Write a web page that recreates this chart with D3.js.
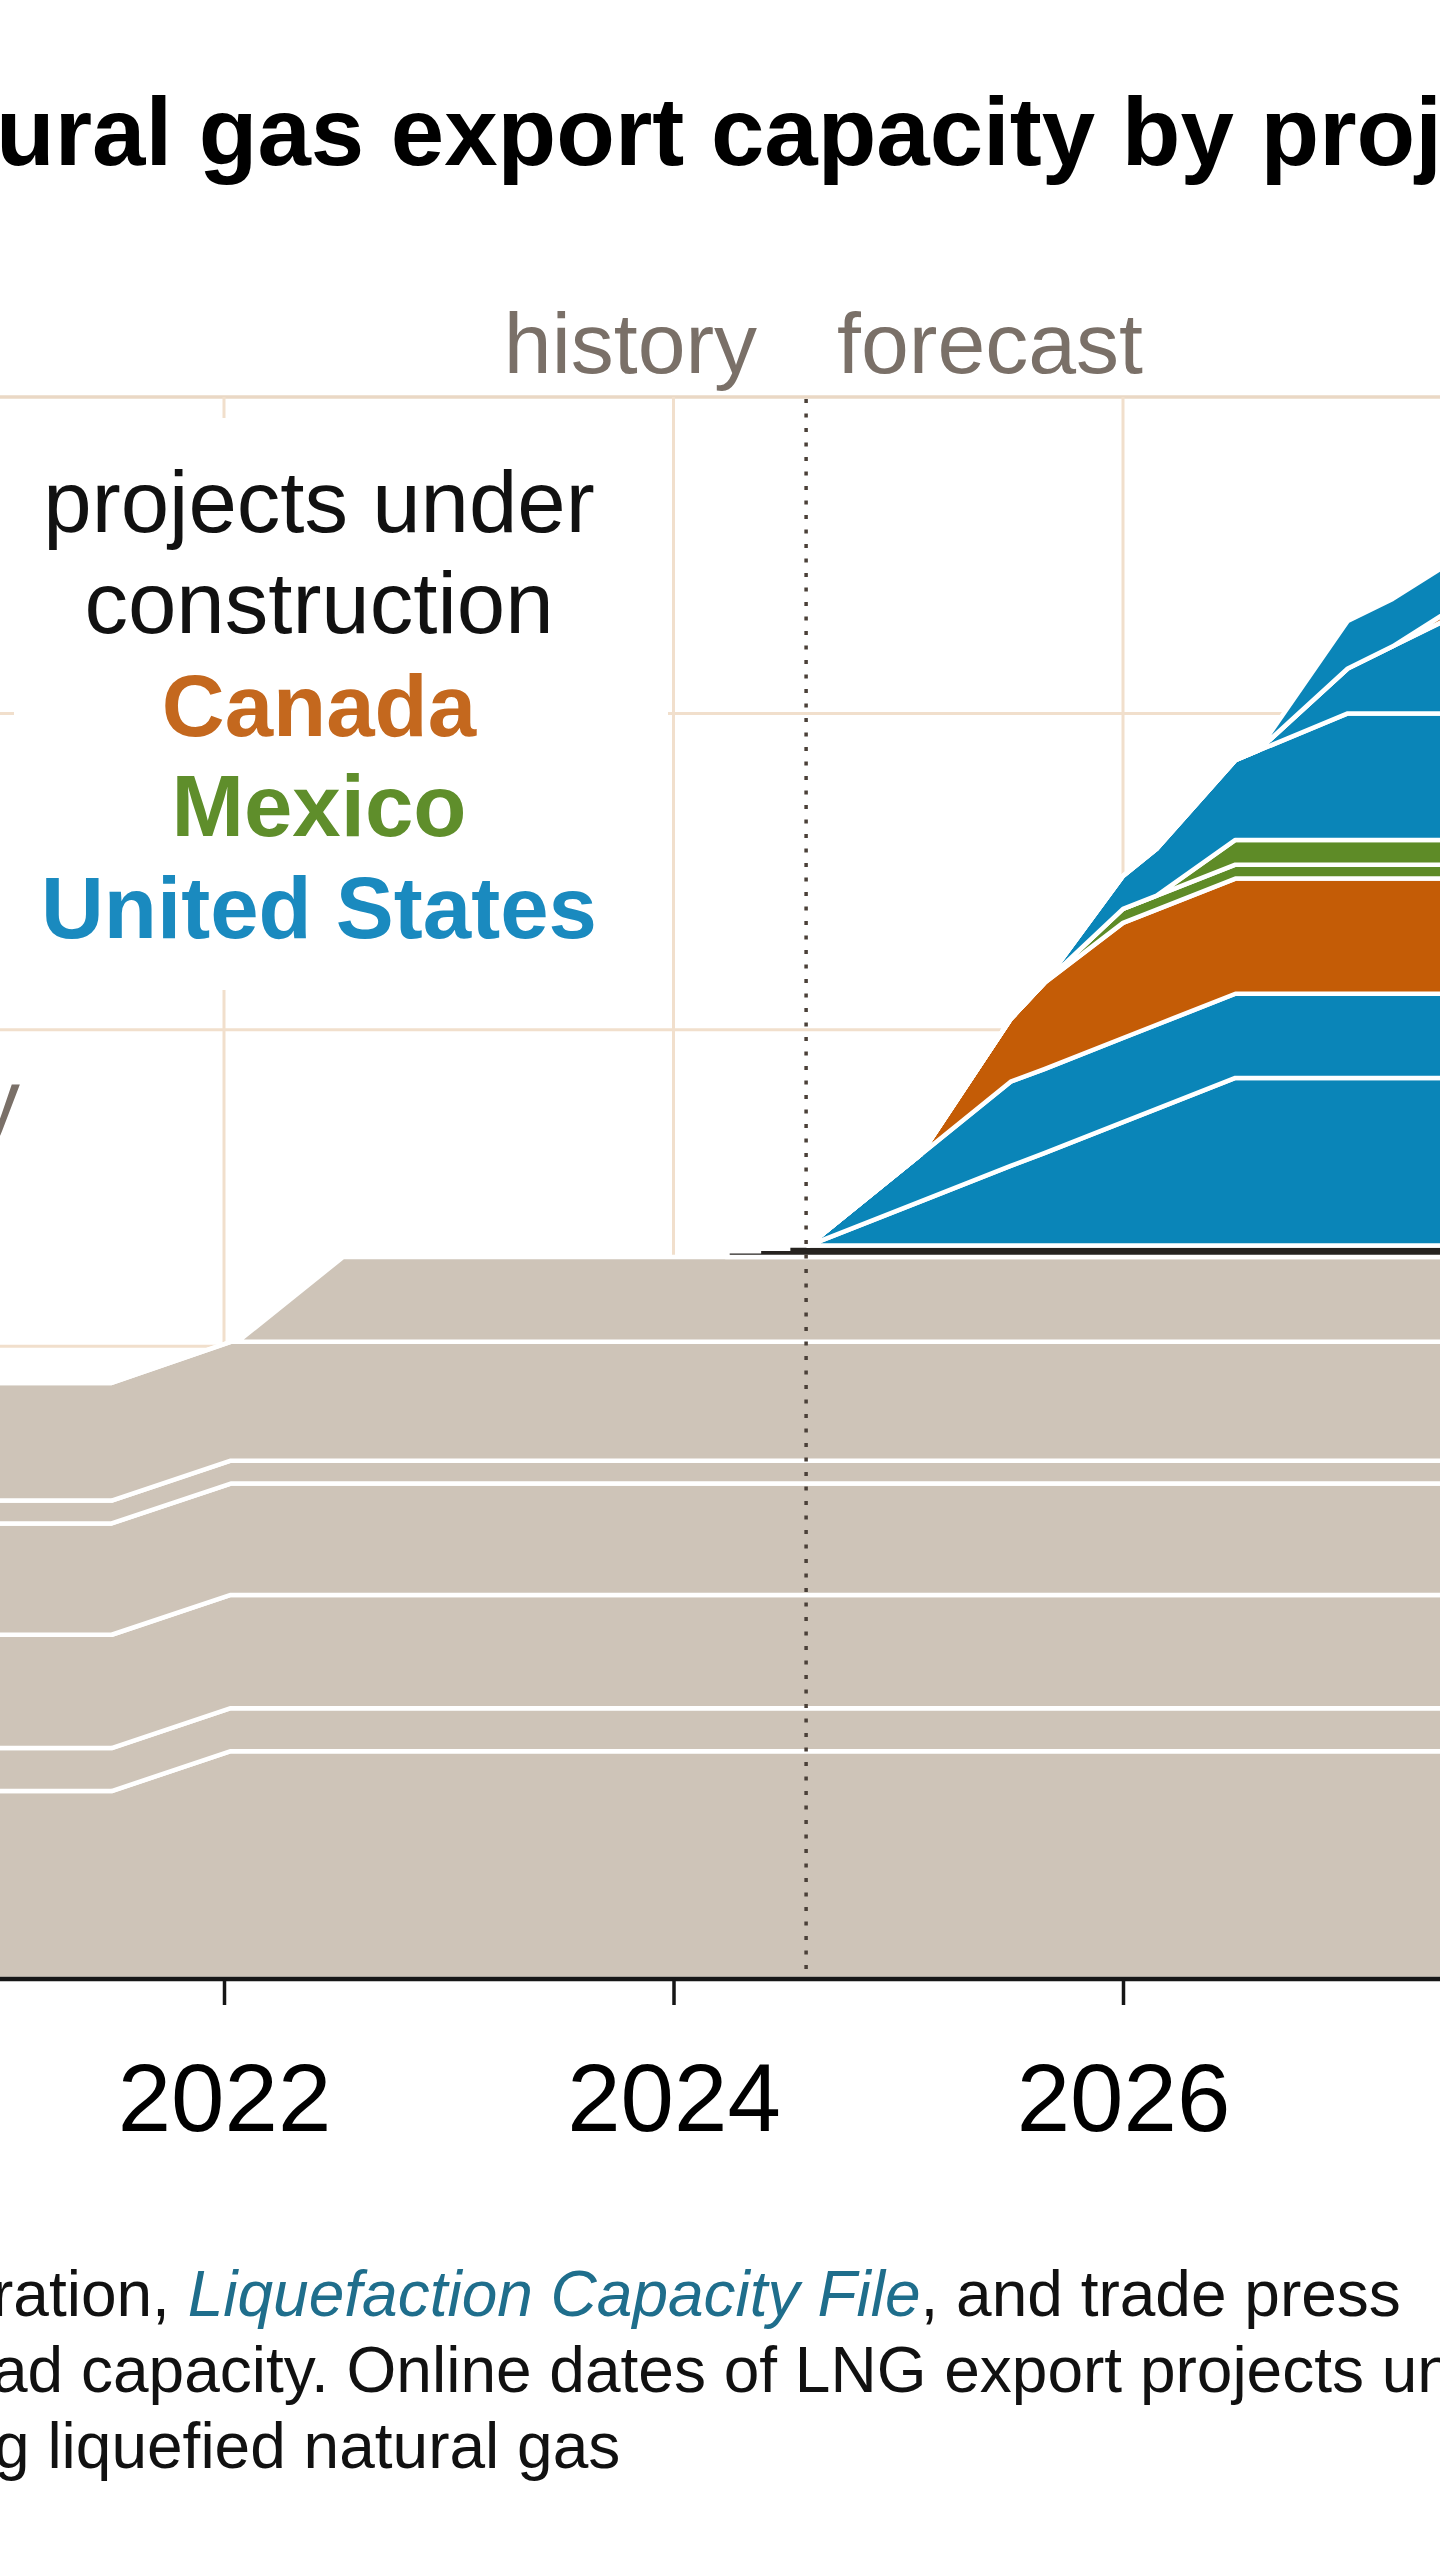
<!DOCTYPE html>
<html><head><meta charset="utf-8">
<script src="https://cdn.jsdelivr.net/npm/d3@7"></script>
<style>
html,body{margin:0;padding:0;background:#fff;}
svg{display:block;}
text{font-family:"Liberation Sans", Arial, Helvetica, sans-serif;}
</style>
</head><body>
<svg id="chart" width="1440" height="2560"></svg>
<script>
// ---------- DATA (Bcf/d) ----------
const xTickYears = [2022, 2024, 2026];
const yGridValues = [5, 10, 15, 20, 25];
const dividerYear = 2024.59;

// existing capacity (tan), stacked bottom -> top
const existingYears = [2020.95, 2021.5, 2022.03, 2022.06, 2022.53, 2027.45];
const existing1 = [2.97, 2.97, 3.60, 3.60, 3.60, 3.60];
const existing2 = [0.68, 0.68, 0.68, 0.68, 0.68, 0.68];
const existing3 = [1.79, 1.79, 1.79, 1.79, 1.79, 1.79];
const existing4 = [1.76, 1.76, 1.76, 1.76, 1.76, 1.76];
const existing5 = [0.36, 0.36, 0.36, 0.36, 0.36, 0.36];
const existing6 = [1.86, 1.86, 1.88, 1.88, 1.88, 1.88];
const existing7 = [0.00, 0.00, 0.00, 0.00, 1.34, 1.34];

// small existing project (dark), step increases
const smallYears = [2024.24, 2024.38, 2024.51, 2027.45];
const smallValues = [0.09, 0.13, 0.18, 0.18];

// projects under construction, stacked bottom -> top
const forecastYears = [2024.6, 2025.1, 2025.5, 2025.65, 2026.0, 2026.15, 2026.5, 2026.6, 2027.0, 2027.2, 2027.45];
const usA     = [0, 0.70, 1.26, 1.46, 1.95, 2.16, 2.65, 2.65, 2.65, 2.65, 2.65];
const usB     = [0, 0.74, 1.33, 1.33, 1.33, 1.33, 1.33, 1.33, 1.33, 1.33, 1.33];
const canadaA = [0, 0, 0.99, 1.36, 1.82, 1.82, 1.82, 1.82, 1.82, 1.82, 1.82];
const mexicoA = [0, 0, 0, 0, 0.22, 0.22, 0.22, 0.22, 0.22, 0.22, 0.22];
const mexicoB = [0, 0, 0, 0, 0, 0, 0.39, 0.39, 0.39, 0.39, 0.39];
const usC     = [0, 0, 0, 0, 0.52, 0.74, 1.26, 1.41, 2.00, 2.00, 2.00];
const usD     = [0, 0, 0, 0, 0, 0, 0, 0, 0.71, 1.06, 1.50];
const canadaB = [0, 0, 0, 0, 0, 0, 0, 0, 0, 0, 0.12];
const usE     = [0, 0, 0, 0, 0, 0, 0, 0, 0.75, 0.75, 0.75];

// ---------- SETUP ----------
const W = 1440, H = 2560;
const svg = d3.select("#chart");
const x = d3.scaleLinear().domain([2022, 2026]).range([224, 1123]);
const y = d3.scaleLinear().domain([0, 25]).range([1979, 397]);

const COL = {
  tan: "#cec4b8", blue: "#0a85b8", orange: "#c45c06", green: "#5e8b27",
  dark: "#262320", grid: "#f1dfcc", label: "#7a7068"
};

svg.append("defs").append("clipPath").attr("id", "plotclip")
  .append("rect").attr("x", 0).attr("y", y(25) - 2).attr("width", W).attr("height", y(0) - y(25) + 2);

// gridlines
const grid = svg.append("g");
grid.selectAll("line.h").data(yGridValues).join("line")
  .attr("x1", 0).attr("x2", W)
  .attr("y1", d => y(d)).attr("y2", d => y(d))
  .attr("stroke", d => d === 25 ? "#ead8c5" : COL.grid)
  .attr("stroke-width", d => d === 25 ? 3.5 : 3);
grid.selectAll("line.v").data(xTickYears).join("line")
  .attr("x1", d => x(d)).attr("x2", d => x(d))
  .attr("y1", y(25)).attr("y2", y(0))
  .attr("stroke", COL.grid).attr("stroke-width", 3);

// legend white box (covers gridlines)
svg.append("rect").attr("x", 14).attr("y", 418).attr("width", 654).attr("height", 572).attr("fill", "#fff");

const plot = svg.append("g").attr("clip-path", "url(#plotclip)");

// existing stacked areas
const exKeys = ["e1","e2","e3","e4","e5","e6","e7"];
const exArrays = [existing1, existing2, existing3, existing4, existing5, existing6, existing7];
const exTable = existingYears.map((yr, i) => {
  const row = {year: yr};
  exKeys.forEach((k, j) => row[k] = exArrays[j][i]);
  return row;
});
const exSeries = d3.stack().keys(exKeys)(exTable);
const areaGen = base => d3.area()
  .x(d => x(d.data.year))
  .y0(d => y(base + d[0]))
  .y1(d => y(base + d[1]));

plot.selectAll("path.ex").data(exSeries).join("path")
  .attr("d", areaGen(0))
  .attr("fill", COL.tan).attr("stroke", "#fff").attr("stroke-width", 4.5)
  .attr("stroke-linejoin", "round");

const exTotal = d3.sum(exKeys, k => exTable[exTable.length - 1][k]);

// small existing project (dark, step)
const smallData = smallYears.map((yr, i) => ({year: yr, v: smallValues[i]}));
plot.append("path").datum(smallData)
  .attr("d", d3.area().curve(d3.curveStepAfter)
    .x(d => x(d.year)).y0(y(exTotal)).y1(d => y(exTotal + d.v)))
  .attr("fill", COL.dark).attr("stroke", "#fff").attr("stroke-width", 4.5);

const fBase = exTotal + smallValues[smallValues.length - 1];

// under construction
const fKeys = ["usA","usB","canadaA","mexicoA","mexicoB","usC","usD","canadaB","usE"];
const fArrays = [usA, usB, canadaA, mexicoA, mexicoB, usC, usD, canadaB, usE];
const fColors = {usA: COL.blue, usB: COL.blue, canadaA: COL.orange, mexicoA: COL.green, mexicoB: COL.green,
                 usC: COL.blue, usD: COL.blue, canadaB: COL.orange, usE: COL.blue};
const fTable = forecastYears.map((yr, i) => {
  const row = {year: yr};
  fKeys.forEach((k, j) => row[k] = fArrays[j][i]);
  return row;
});
const fSeries = d3.stack().keys(fKeys)(fTable);
plot.selectAll("path.f").data(fSeries).join("path")
  .attr("d", areaGen(fBase))
  .attr("fill", d => fColors[d.key]).attr("stroke", "#fff").attr("stroke-width", 4.5)
  .attr("stroke-linejoin", "round");

// history / forecast divider
svg.append("line")
  .attr("x1", x(dividerYear)).attr("x2", x(dividerYear))
  .attr("y1", y(25) + 2).attr("y2", y(0))
  .attr("stroke", "#4a4038").attr("stroke-width", 3.5).attr("stroke-dasharray", "4,10.5");

svg.append("text").attr("x", x(dividerYear) - 49).attr("y", 373)
  .attr("text-anchor", "end").attr("font-size", 86).attr("fill", COL.label).text("history");
svg.append("text").attr("x", x(dividerYear) + 31).attr("y", 373)
  .attr("text-anchor", "start").attr("font-size", 86).attr("fill", COL.label).text("forecast");

// x axis
svg.append("line").attr("x1", 0).attr("x2", W).attr("y1", y(0)).attr("y2", y(0))
  .attr("stroke", "#161616").attr("stroke-width", 4.5);
const axis = d3.axisBottom(x).tickValues(xTickYears).tickFormat(d3.format("d")).tickSize(26).tickSizeOuter(0);
const ax = svg.append("g").attr("transform", `translate(0,${y(0)})`).call(axis);
ax.select(".domain").remove();
ax.selectAll(".tick line").attr("stroke", "#161616").attr("stroke-width", 3.5);
ax.selectAll(".tick text").attr("y", 152).attr("dy", 0)
  .attr("font-size", 96).attr("font-family", "Liberation Sans, Arial, sans-serif").attr("fill", "#000");

// legend
const legend = [
  {t: "projects under", c: "#111", w: "normal", yb: 532},
  {t: "construction", c: "#111", w: "normal", yb: 633},
  {t: "Canada", c: "#c4681e", w: "bold", yb: 736},
  {t: "Mexico", c: "#5f8e2b", w: "bold", yb: 836},
  {t: "United States", c: "#1a8abf", w: "bold", yb: 938}
];
svg.selectAll("text.leg").data(legend).join("text")
  .attr("x", 319).attr("y", d => d.yb).attr("text-anchor", "middle")
  .attr("font-size", 87).attr("font-weight", d => d.w).attr("fill", d => d.c).text(d => d.t);

// existing capacity label (cut off at left)
svg.append("text").attr("x", 20).attr("y", 1131).attr("text-anchor", "end")
  .attr("font-size", 87).attr("fill", COL.label).text("existing capacity");

// title (cropped)
svg.append("text").attr("x", -4).attr("y", 165).attr("font-size", 96).attr("font-weight", "bold")
  .attr("fill", "#000").text("ural gas export capacity by proj");

// footnotes
const f1 = svg.append("text").attr("x", -8).attr("y", 2316).attr("font-size", 64).attr("fill", "#111");
f1.append("tspan").text("ration, ");
f1.append("tspan").attr("font-style", "italic").attr("fill", "#1f6e8c").text("Liquefaction Capacity File");
f1.append("tspan").text(", and trade press");
svg.append("text").attr("x", -8).attr("y", 2392).attr("font-size", 64).attr("fill", "#111")
  .text("ad capacity. Online dates of LNG export projects un");
svg.append("text").attr("x", -6).attr("y", 2468).attr("font-size", 64).attr("fill", "#111")
  .text("g liquefied natural gas");
</script>
</body></html>
